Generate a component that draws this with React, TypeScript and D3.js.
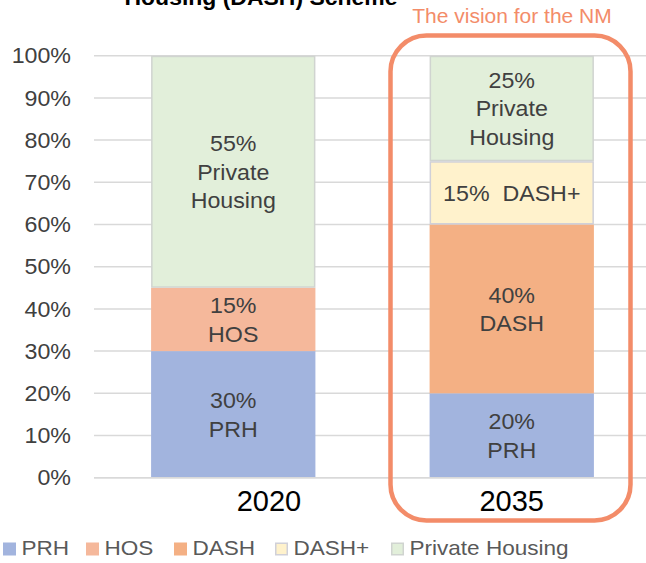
import React from "react";
import * as d3 from "d3";

const years = ["2020", "2035"];
const seriesNames = ["PRH", "HOS", "DASH", "DASH+", "Private Housing"];
const prh = [30, 20];
const hos = [15, 0];
const dash = [0, 40];
const dashPlus = [0, 15];
const privateHousing = [55, 25];
const yTicks = [0, 10, 20, 30, 40, 50, 60, 70, 80, 90, 100];
// labels inside segments, per series per year (lines)
const segLabels: string[][][] = [
  [["30%", "PRH"], ["20%", "PRH"]],
  [["15%", "HOS"], []],
  [[], ["40%", "DASH"]],
  [[], ["15%  DASH+"]],
  [["55%", "Private", "Housing"], ["25%", "Private", "Housing"]],
];
const titleText = "Housing (DASH) Scheme";
const visionText = "The vision for the NM";

const W = 646;
const H = 563;
const colors = ["#a2b4de", "#f5b89b", "#f4b084", "#fff2cc", "#e2efda"];
const borders = [null, null, null, "#d0d0d8", "#d0d4d0"];
const legendX = [3, 86, 174, 275, 391];
const FONT = "Liberation Sans, Arial, sans-serif";
const SX = 1.08;

export default function App() {
  const y = d3.scaleLinear().domain([0, 100]).range([477.7, 55.7]);
  const x = d3
    .scaleBand<string>()
    .domain(years)
    .range([94, 651])
    .paddingInner(0.41)
    .paddingOuter(0.205);

  const table = years.map((yr, i) => ({
    year: yr,
    PRH: prh[i],
    HOS: hos[i],
    DASH: dash[i],
    "DASH+": dashPlus[i],
    "Private Housing": privateHousing[i],
  }));
  const stacked = d3.stack<any>().keys(seriesNames)(table);
  const lineH = 28.6;

  return (
    <svg width={W} height={H} style={{ position: "absolute", left: 0, top: 0 }}>
      <rect width={W} height={H} fill="#fff" />
      <text
        x={261}
        y={5}
        textAnchor="middle"
        fontFamily={FONT}
        fontWeight="bold"
        fontSize={22}
        textLength={273}
        lengthAdjust="spacingAndGlyphs"
        fill="#000"
      >
        {titleText}
      </text>
      {/* gridlines */}
      {yTicks.map((t) => (
        <g key={t}>
          <line x1={94} x2={W} y1={y(t)} y2={y(t)} stroke="#d9d9d9" strokeWidth={1.5} />
          <g transform={`translate(71,${y(t)}) scale(${SX},1)`}>
            <text
              dy="0.36em"
              textAnchor="end"
              fontFamily={FONT}
              fontSize={21.5}
              fill="#404040"
            >
              {t + "%"}
            </text>
          </g>
        </g>
      ))}
      {/* bars */}
      {stacked.map((s, si) =>
        s.map((d, i) => {
          if (d[1] - d[0] <= 0) return null;
          const x0 = x(years[i])!;
          const bw = x.bandwidth();
          const b = borders[si];
          return (
            <rect
              key={si + "-" + i}
              x={b ? x0 + 0.75 : x0}
              y={b ? y(d[1]) + 0.75 : y(d[1])}
              width={b ? bw - 1.5 : bw}
              height={b ? y(d[0]) - y(d[1]) - 1.5 : y(d[0]) - y(d[1])}
              fill={colors[si]}
              stroke={b || "none"}
              strokeWidth={1.5}
            />
          );
        })
      )}
      {/* segment labels */}
      {stacked.map((s, si) =>
        s.map((d, i) => {
          const lines = segLabels[si][i];
          if (!lines || !lines.length) return null;
          const cx = x(years[i])! + x.bandwidth() / 2;
          const cy = (y(d[0]) + y(d[1])) / 2;
          const first = -((lines.length - 1) * lineH) / 2 + 8;
          return (
            <g key={"l" + si + "-" + i} transform={`translate(${cx},${cy}) scale(${SX},1)`}>
              <text
                textAnchor="middle"
                fontFamily={FONT}
                fontSize={21.5}
                fill="#404040"
                style={{ whiteSpace: "pre" }}
              >
                {lines.map((ln, k) => (
                  <tspan key={k} x={0} y={first + k * lineH}>
                    {ln}
                  </tspan>
                ))}
              </text>
            </g>
          );
        })
      )}
      {/* x axis line */}
      <line x1={94} x2={W} y1={y(0)} y2={y(0)} stroke="#d9d9d9" strokeWidth={1.5} />
      {/* year labels */}
      <text x={269} y={510.5} textAnchor="middle" fontFamily={FONT} fontSize={29} fill="#000">
        {years[0]}
      </text>
      <text
        x={x(years[1])! + x.bandwidth() / 2}
        y={510.5}
        textAnchor="middle"
        fontFamily={FONT}
        fontSize={29}
        fill="#000"
      >
        {years[1]}
      </text>
      {/* vision box */}
      <rect
        x={390.5}
        y={35.5}
        width={240}
        height={485}
        rx={36}
        ry={36}
        fill="none"
        stroke="#f38c69"
        strokeWidth={4.5}
      />
      <text
        x={512}
        y={22.7}
        textAnchor="middle"
        fontFamily={FONT}
        fontSize={21}
        fill="#f38c69"
      >
        {visionText}
      </text>
      {/* legend */}
      {seriesNames.map((n, i) => (
        <g key={n}>
          <rect
            x={legendX[i] + (borders[i] ? 0.75 : 0)}
            y={542.5 + (borders[i] ? 0.75 : 0)}
            width={borders[i] ? 11.5 : 13}
            height={borders[i] ? 11.5 : 13}
            fill={colors[i]}
            stroke={borders[i] || "none"}
            strokeWidth={1.5}
          />
          <g transform={`translate(${legendX[i] + 18.5},554.5) scale(1.1,1)`}>
            <text fontFamily={FONT} fontSize={20.5} fill="#595959">
              {n}
            </text>
          </g>
        </g>
      ))}
    </svg>
  );
}
